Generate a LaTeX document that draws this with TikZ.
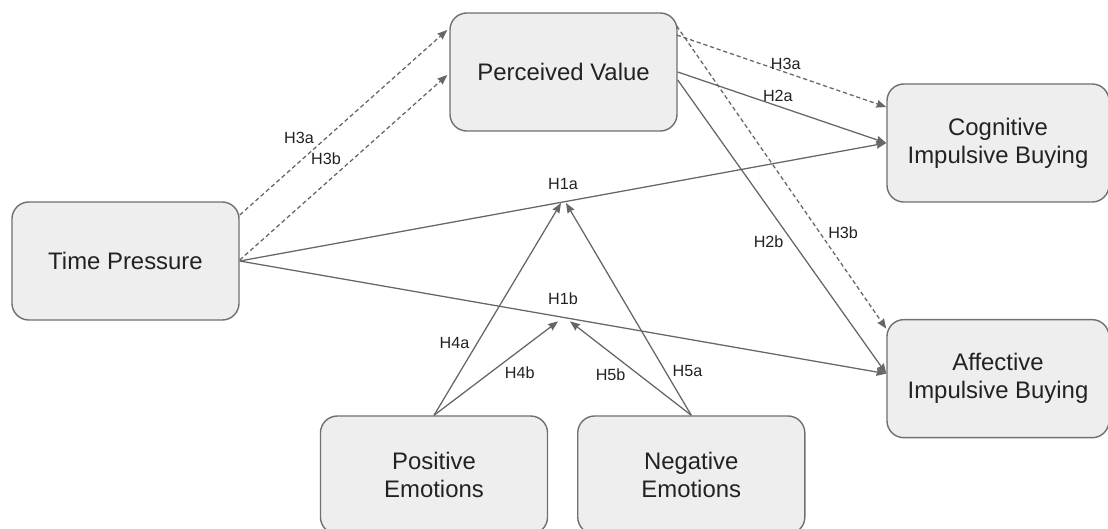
\documentclass[tikz,border=0pt]{standalone}
\usepackage{fontspec}
\setmainfont{Liberation Sans}
\usepackage{xcolor}
\usepackage{tikz}
\usetikzlibrary{arrows.meta,calc}
\definecolor{boxfill}{HTML}{EEEEEE}
\definecolor{boxline}{HTML}{707070}
\definecolor{arrowgray}{HTML}{666666}
\definecolor{txt}{HTML}{222222}

\begin{document}
\begin{tikzpicture}[x=0.025cm,y=-0.025cm,->,>={Stealth[length=7pt,width=5.5pt,inset=0.6pt]},line width=0.9pt,
		construct/.style={draw=boxline,fill=boxfill,rounded corners=12pt,minimum width=5.675cm,minimum height=2.95cm,align=center,font=\fontsize{17}{20}\selectfont,text=txt,line width=1pt},
		hyp/.style={font=\fontsize{11.5}{13}\selectfont,text=txt,inner sep=1.5pt},
		link/.style={draw=arrowgray},
		maybe/.style={link,dash pattern=on 3pt off 2pt}]
		\useasboundingbox (0,0) rectangle (1108,528);
		\node[construct] (tp) at (125.5,261) {Time Pressure};
		\node[construct] (pv) at (563.5,72) {Perceived Value};
		\node[construct,minimum width=5.55cm] (cog) at (998,143) {Cognitive\\Impulsive Buying};
		\node[construct,minimum width=5.55cm] (aff)[below of=cog,node distance=5.89cm] {Affective\\Impulsive Buying};
		\node[construct] (pe) at (434,475) {Positive\\Emotions};
		\node[construct] (ne)[right of=pe,node distance=6.43cm] {Negative\\Emotions};
		% time pressure
		\draw[maybe] ($(tp.east)+(0,-46)$) -- node[hyp,pos=0.37,above left]{H3a} ($(pv.west)+(-2,-42)$);
		\draw[maybe] ($(tp.east)+(0,-1)$) -- node[hyp,pos=0.5,above left]{H3b} ($(pv.west)+(-2,3)$);
		\draw[link] (tp.east) -- node[hyp,pos=0.5,above=7pt]{H1a} coordinate[pos=0.5] (m1) (cog.west);
		\draw[link] (tp.east) -- node[hyp,pos=0.5,above=7pt]{H1b} coordinate[pos=0.5] (m2) ($(aff.west)+(0,-5)$);
		% perceived value
		\draw[maybe] ($(pv.east)+(-1,-37)$) -- node[hyp,pos=0.52,above]{H3a} ($(cog.west)+(0,-36)$);
		\draw[link] (pv.east) -- node[hyp,pos=0.48,above=1pt]{H2a} (cog.west);
		\draw[link] ($(pv.east)+(0,8)$) -- node[hyp,pos=0.52,below left]{H2b} ($(aff.west)+(0,-5)$);
		\draw[maybe] ($(pv.east)+(-1,-46)$) -- node[hyp,pos=0.71,above right]{H3b} ($(aff.west)+(0,-50)$);
		% emotions
		\draw[link] (pe.north) -- node[hyp,pos=0.3,above left]{H4a} ($(m1)+(-2,1)$);
		\draw[link] (pe.north) -- node[hyp,pos=0.55,below right]{H4b} ($(m2)+(-5,4)$);
		\draw[link] (ne.north) -- node[hyp,pos=0.52,below left]{H5b} ($(m2)+(7,4)$);
		\draw[link] (ne.north) -- node[hyp,pos=0.17,above right]{H5a} ($(m1)+(3,1)$);
\end{tikzpicture}
\end{document}
